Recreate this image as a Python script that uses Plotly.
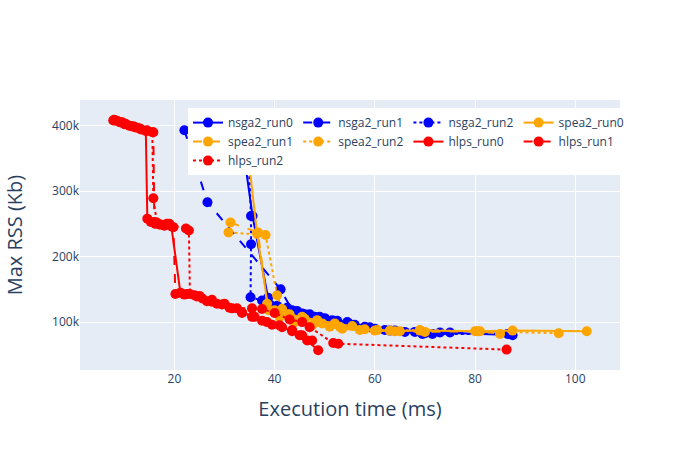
import plotly.graph_objects as go

# ---- data (execution time ms, max RSS in thousands Kb) ----
nsga2_run0_x = [33.0, 35.6, 38.7, 40.5, 42.5, 44.5, 47.0, 50.0, 54.5, 58.0, 62.0, 66.0, 70.0, 73.0, 87.5]
nsga2_run0_y = [405, 262, 137, 125, 122, 117, 112, 106, 100, 93, 88, 85, 83, 84, 80]

nsga2_run1_x = [22.0, 26.6, 41.2, 43.5, 46.0, 49.0, 52.5, 56.0, 60.0, 64.0, 69.5, 75.0, 87.0]
nsga2_run1_y = [393, 283, 150, 118, 112, 108, 102, 96, 90, 87, 82, 84, 82]

nsga2_run2_x = [34.5, 35.3, 35.3, 35.2, 37.5, 40.0, 42.0, 45.5, 48.0, 51.5, 55.0, 59.0, 63.0, 68.0, 71.5, 86.5]
nsga2_run2_y = [405, 262, 219, 138, 133, 122, 118, 113, 108, 103, 97, 92, 87, 85, 82, 82]

spea2_run0_x = [34.0, 36.5, 38.8, 41.0, 44.0, 47.5, 51.0, 53.5, 57.0, 60.0, 64.0, 69.0, 80.0, 87.5, 102.3]
spea2_run0_y = [405, 235, 118, 108, 100, 95, 93, 90, 88, 87, 86, 87, 86, 87, 86]

spea2_run1_x = [31.2, 36.7, 38.5, 40.0, 42.5, 45.5, 48.5, 52.0, 55.5, 60.5, 65.0, 70.0, 81.0, 85.0]
spea2_run1_y = [252, 237, 128, 118, 112, 108, 103, 98, 94, 88, 86, 85, 86, 82]

spea2_run2_x = [30.8, 38.2, 40.5, 41.5, 43.0, 46.0, 49.5, 53.0, 58.0, 63.0, 69.0, 80.5, 96.7]
spea2_run2_y = [237, 233, 141, 120, 112, 105, 98, 93, 89, 87, 88, 86, 83]

hlps_run0_x = [7.8, 8.6, 9.6, 10.4, 11.4, 12.4, 13.4, 14.3, 14.6, 15.3, 16.2, 17.2, 18.0, 19.4, 21.2,
               22.5, 24.0, 25.6, 27.5, 29.5, 31.5, 33.5, 35.5, 37.5, 39.5, 41.5, 43.5, 45.0, 46.5, 48.7]
hlps_run0_y = [408, 407, 405, 402, 399, 397, 394, 392, 258, 253, 250, 249, 248, 246, 145,
               143, 141, 136, 131, 127, 121, 114, 108, 102, 96, 92, 86, 80, 72, 57]

hlps_run1_x = [8.2, 9.0, 10.0, 11.0, 12.0, 13.2, 14.5, 15.8, 16.0, 17.0, 18.0, 19.0, 19.8, 20.2,
               22.0, 24.5, 26.5, 28.5, 31.0, 33.5, 36.0, 38.5, 41.0, 43.5, 45.5, 47.5]
hlps_run1_y = [408, 406, 402, 400, 398, 395, 392, 390, 253, 249, 247, 250, 245, 143,
               142, 139, 132, 128, 122, 115, 108, 100, 95, 88, 80, 72]

hlps_run2_x = [8.0, 9.2, 10.2, 11.8, 13.0, 14.5, 15.6, 15.8, 16.5, 18.5, 22.3, 22.9, 23.1, 25.0,
               27.5, 30.0, 32.5, 35.5, 37.5, 40.0, 43.0, 45.5, 47.0, 51.7, 52.7, 86.3]
hlps_run2_y = [409, 405, 403, 399, 396, 393, 390, 289, 252, 250, 243, 240, 143, 140,
               134, 128, 121, 121, 120, 114, 104, 100, 92, 68, 67, 58]

series = [
    ("nsga2_run0", nsga2_run0_x, nsga2_run0_y, "blue", "solid"),
    ("nsga2_run1", nsga2_run1_x, nsga2_run1_y, "blue", "dash"),
    ("nsga2_run2", nsga2_run2_x, nsga2_run2_y, "blue", "dot"),
    ("spea2_run0", spea2_run0_x, spea2_run0_y, "orange", "solid"),
    ("spea2_run1", spea2_run1_x, spea2_run1_y, "orange", "dash"),
    ("spea2_run2", spea2_run2_x, spea2_run2_y, "orange", "dot"),
    ("hlps_run0", hlps_run0_x, hlps_run0_y, "red", "solid"),
    ("hlps_run1", hlps_run1_x, hlps_run1_y, "red", "dash"),
    ("hlps_run2", hlps_run2_x, hlps_run2_y, "red", "dot"),
]

fig = go.Figure()
for name, xs, ys, color, dash in series:
    fig.add_trace(go.Scatter(
        x=xs, y=[v * 1000 for v in ys], name=name, mode="lines+markers",
        line=dict(color=color, dash=dash, width=2),
        marker=dict(color=color, size=10),
    ))

fig.update_layout(
    width=700, height=450,
    template="plotly",
    xaxis=dict(title=dict(text="Execution time (ms)", font=dict(size=20))),
    yaxis=dict(title=dict(text="Max RSS (Kb)", font=dict(size=20), standoff=24)),
    legend=dict(orientation="h", x=0.2, y=0.97, xanchor="left", yanchor="top",
                bgcolor="white"),
)

fig.write_html("out.html")
